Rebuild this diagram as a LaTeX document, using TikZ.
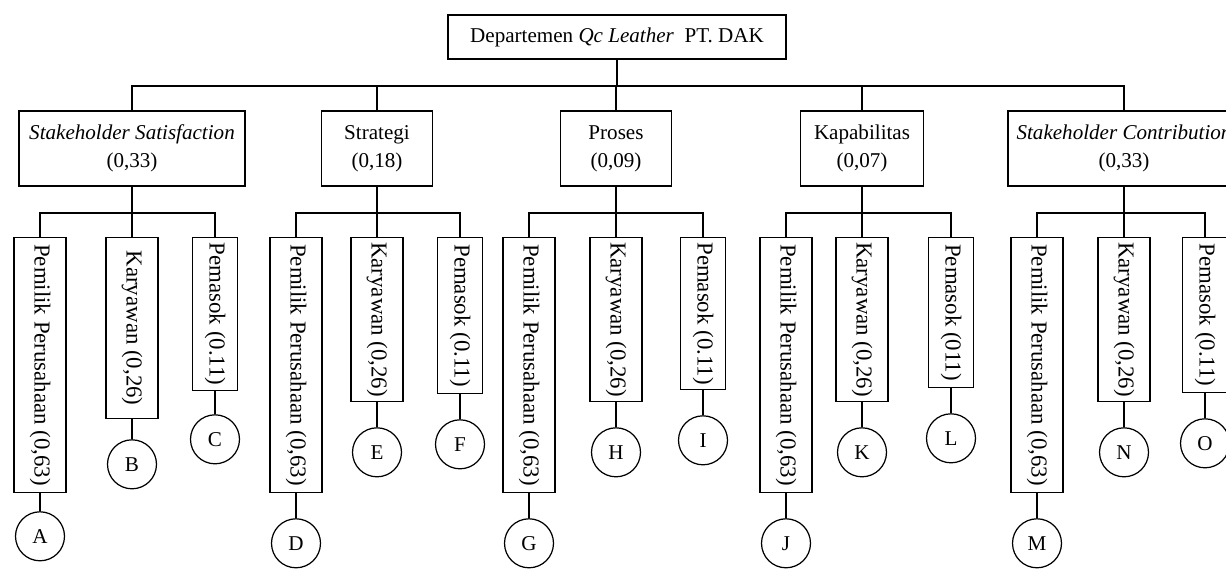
\documentclass[tikz,border=0pt]{standalone}
\usepackage{fontspec}
\setmainfont{Liberation Serif}
\usetikzlibrary{positioning}
\tikzset{
 box/.style={draw,line width=0.7pt,align=center,minimum height=1.5cm,
             font=\fontsize{12}{16}\selectfont},
 vbox/.style={draw,line width=0.7pt,rotate=-90,anchor=west,minimum height=1.04cm,
             inner sep=1pt,font=\fontsize{13}{15}\selectfont},
 circ/.style={draw,circle,line width=0.7pt,minimum size=0.98cm,inner sep=0pt,
             font=\fontsize{12}{14}\selectfont},
 conn/.style={line width=0.7pt}
}
\begin{document}
\begin{tikzpicture}[x=0.02cm,y=-0.02cm,node distance=5mm]
\useasboundingbox[fill=white] (0,0) rectangle (1226,569);
\clip (0,0) rectangle (1226,569);
\node[box,minimum width=6.76cm,minimum height=0.88cm] (dept) at (617,37) {Departemen \textit{Qc Leather}\ \ PT. DAK};
% level 2
\node[box,minimum width=4.52cm] (ss) at (132,148.5) {\textit{Stakeholder Satisfaction}\\(0,33)};
\node[box,minimum width=2.22cm] (str) at (377,148.5) {Strategi\\(0,18)};
\node[box,minimum width=2.22cm] (pro) at (616,148.5) {Proses\\(0,09)};
\node[box,minimum width=2.46cm] (kap) at (862,148.5) {Kapabilitas\\(0,07)};
\node[box,minimum width=4.64cm] (sc) at (1124,148.5) {\textit{Stakeholder Contribution}\\(0,33)};
\coordinate (bus) at (617,86);
\draw[conn] (dept) -- (bus);
\draw[conn] (ss) |- (bus);
\draw[conn] (str) |- (bus);
\draw[conn] (pro) |- (bus);
\draw[conn] (kap) |- (bus);
\draw[conn] (sc) |- (bus);
% level 3
\node[vbox,minimum width=5.1cm] (pp1) at (40,237) {Pemilik Perusahaan (0,63)};
\node[vbox,minimum width=3.62cm] (ka1) at (132,237) {Karyawan (0,26)};
\node[vbox,minimum width=3.06cm,minimum height=0.9cm] (pm1) at (215,237) {Pemasok (0.11)};
\node[vbox,minimum width=5.1cm] (pp2) at (296,237) {Pemilik Perusahaan (0,63)};
\node[vbox,minimum width=3.28cm] (ka2) at (377,237) {Karyawan (0,26)};
\node[vbox,minimum width=3.12cm,minimum height=0.9cm] (pm2) at (460,237) {Pemasok (0.11)};
\node[vbox,minimum width=5.1cm] (pp3) at (529,237) {Pemilik Perusahaan (0,63)};
\node[vbox,minimum width=3.28cm] (ka3) at (616,237) {Karyawan (0,26)};
\node[vbox,minimum width=3.04cm,minimum height=0.9cm] (pm3) at (703,237) {Pemasok (0.11)};
\node[vbox,minimum width=5.1cm] (pp4) at (786,237) {Pemilik Perusahaan (0,63)};
\node[vbox,minimum width=3.28cm] (ka4) at (862,237) {Karyawan (0,26)};
\node[vbox,minimum width=3.0cm,minimum height=0.9cm] (pm4) at (951,237) {Pemasok (011)};
\node[vbox,minimum width=5.1cm] (pp5) at (1037,237) {Pemilik Perusahaan (0,63)};
\node[vbox,minimum width=3.28cm] (ka5) at (1124,237) {Karyawan (0,26)};
\node[vbox,minimum width=3.1cm,minimum height=0.9cm] (pm5) at (1205,237) {Pemasok (0.11)};
\coordinate (b1) at (132,213);
\coordinate (b2) at (377,213);
\coordinate (b3) at (616,213);
\coordinate (b4) at (862,213);
\coordinate (b5) at (1124,213);
\draw[conn] (ss) -- (b1) (pp1.west) |- (b1) (ka1.west) -- (b1) (pm1.west) |- (b1);
\draw[conn] (str) -- (b2) (pp2.west) |- (b2) (ka2.west) -- (b2) (pm2.west) |- (b2);
\draw[conn] (pro) -- (b3) (pp3.west) |- (b3) (ka3.west) -- (b3) (pm3.west) |- (b3);
\draw[conn] (kap) -- (b4) (pp4.west) |- (b4) (ka4.west) -- (b4) (pm4.west) |- (b4);
\draw[conn] (sc) -- (b5) (pp5.west) |- (b5) (ka5.west) -- (b5) (pm5.west) |- (b5);
% circles
\node[circ,below=3.6mm of pp1.east] (A) {A};
\node[circ,below=4mm of ka1.east] (B) {B};
\node[circ,below=4.6mm of pm1.east] (C) {C};
\node[circ,below=of pp2.east] (D) {D};
\node[circ,below=of ka2.east] (E) {E};
\node[circ,below=of pm2.east] (F) {F};
\node[circ,below=of pp3.east] (G) {G};
\node[circ,below=of ka3.east] (H) {H};
\node[circ,below=of pm3.east] (I) {I};
\node[circ,below=of pp4.east] (J) {J};
\node[circ,below=of ka4.east] (K) {K};
\node[circ,below=of pm4.east] (L) {L};
\node[circ,below=of pp5.east] (M) {M};
\node[circ,below=of ka5.east] (N) {N};
\node[circ,below=of pm5.east] (O) {O};
\draw[conn] (pp1.east) -- (A) (ka1.east) -- (B) (pm1.east) -- (C);
\draw[conn] (pp2.east) -- (D) (ka2.east) -- (E) (pm2.east) -- (F);
\draw[conn] (pp3.east) -- (G) (ka3.east) -- (H) (pm3.east) -- (I);
\draw[conn] (pp4.east) -- (J) (ka4.east) -- (K) (pm4.east) -- (L);
\draw[conn] (pp5.east) -- (M) (ka5.east) -- (N) (pm5.east) -- (O);
\end{tikzpicture}
\end{document}
